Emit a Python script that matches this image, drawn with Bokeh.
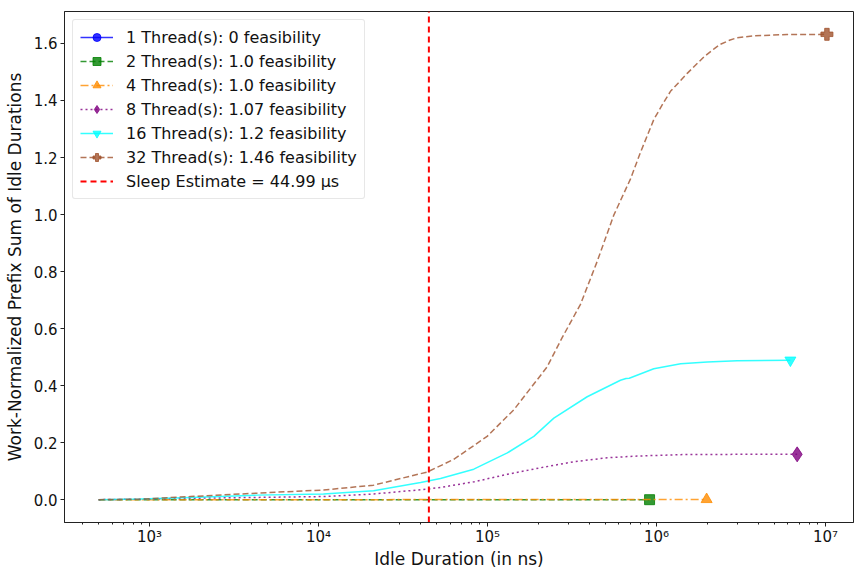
from bokeh.plotting import figure
from bokeh.models import (Range1d, FixedTicker, CustomJSTickFormatter, Legend, LegendItem,
                          NumeralTickFormatter, ColumnDataSource)
from bokeh.embed import file_html
from bokeh.resources import INLINE

# ---------------- data ----------------
# 1 thread: no visible curve and no visible end marker in the reference
t1_x = [500]
t1_y = [0.0]

t2_x = [500, 1e4, 1e5, 9.1e5]
t2_y = [0.0, 0.0, 0.0, 0.0]

t4_x = [500, 1e4, 1e5, 1e6, 1.98e6]
t4_y = [0.0, 0.0, 0.0005, 0.001, 0.001]

t8_x = [500, 885, 1750, 4340, 1.07e4, 2.12e4, 4.4e4, 5.27e4, 8.3e4, 1.31e5, 2.06e5, 3.24e5,
        5.11e5, 7.69e5, 1.39e6, 3e6, 6.8e6]
t8_y = [0.0, 0.002, 0.005, 0.008, 0.011, 0.020, 0.037, 0.043, 0.0625, 0.089, 0.112, 0.133,
        0.147, 0.153, 0.158, 0.159, 0.159]

t16_x = [500, 885, 1750, 4340, 1.07e4, 2.12e4, 4.02e4, 5.27e4, 8.3e4, 1.31e5, 1.88e5, 2.47e5,
         3.89e5, 6.12e5, 6.6e5, 6.9e5, 9.64e5, 1.39e6, 2e6, 3e6, 6.2e6]
t16_y = [0.0, 0.002, 0.008, 0.016, 0.020, 0.031, 0.060, 0.074, 0.107, 0.164, 0.222, 0.286,
         0.361, 0.419, 0.425, 0.426, 0.459, 0.477, 0.483, 0.487, 0.489]

t32_x = [500, 885, 1750, 4340, 1.07e4, 2.12e4, 4.4e4, 6.3e4, 9.95e4, 1.43e5, 2.25e5, 2.77e5,
         3.55e5, 4.46e5, 5.59e5, 7.02e5, 8.04e5, 9.64e5, 1.1e6, 1.21e6, 1.52e6, 1.91e6, 2.2e6,
         2.39e6, 2.7e6, 3.0e6, 3.77e6, 5.93e6, 1.02e7]
t32_y = [0.0, 0.002, 0.011, 0.023, 0.034, 0.051, 0.097, 0.141, 0.222, 0.315, 0.465, 0.569,
         0.685, 0.836, 0.998, 1.125, 1.218, 1.333, 1.392, 1.432, 1.495, 1.553, 1.582,
         1.597, 1.611, 1.620, 1.627, 1.631, 1.632]

sleep_estimate_ns = 44990

labels = ["1 Thread(s): 0 feasibility", "2 Thread(s): 1.0 feasibility", "4 Thread(s): 1.0 feasibility",
          "8 Thread(s): 1.07 feasibility", "16 Thread(s): 1.2 feasibility", "32 Thread(s): 1.46 feasibility"]
sleep_label = "Sleep Estimate = 44.99 \u03bcs"

x_ticks = [1e3, 1e4, 1e5, 1e6, 1e7]
y_ticks = [0.0, 0.2, 0.4, 0.6, 0.8, 1.0, 1.2, 1.4, 1.6]

x_min, x_max = 314, 1.465e7
y_min, y_max = -0.080, 1.712

# ---------------- figure ----------------
FONT = "DejaVu Sans"
p = figure(width=854, height=571, x_axis_type="log", output_backend="svg", toolbar_location=None,
           x_range=Range1d(x_min, x_max), y_range=Range1d(y_min, y_max),
           min_border_left=64, min_border_top=11, min_border_right=1, min_border_bottom=43)
p.grid.visible = False
p.outline_line_color = "#222222"
p.outline_line_width = 1
p.background_fill_color = "white"
p.border_fill_color = "white"

series = [
    (t1_x, t1_y, "blue", "solid", "circle", False),
    (t2_x, t2_y, "green", "dashed", "square", True),
    (t4_x, t4_y, "darkorange", "dashdot", "triangle", True),
    (t8_x, t8_y, "purple", "dotted", "diamond", True),
    (t16_x, t16_y, "cyan", "solid", "inverted_triangle", True),
    (t32_x, t32_y, "sienna", "dashed", "plus", True),
]
dash_map = {"solid": "solid", "dashed": "6 3", "dashdot": "8 3 2 3", "dotted": "2 3"}
size_map = {"circle": 10, "square": 10, "triangle": 11, "diamond": 15,
            "inverted_triangle": 11, "plus": 12}

items = []
for (xs, ys, col, dash, mk, show_end), lab in zip(series, labels):
    r1 = p.line(xs, ys, line_color=col, line_alpha=0.8, line_width=1.5, line_dash=dash_map[dash])
    end_y = ys[-1:] if show_end else [float("nan")]
    src = ColumnDataSource(dict(x=xs[-1:], y=end_y))
    r2 = p.scatter("x", "y", source=src, marker=mk, size=size_map[mk],
                   fill_color=col, line_color=col, fill_alpha=0.8, line_alpha=0.8)
    items.append(LegendItem(label=lab, renderers=[r1, r2]))

rs = p.line([sleep_estimate_ns, sleep_estimate_ns], [y_min, y_max], line_color="red", line_width=2,
            line_dash="6 4")
items.append(LegendItem(label=sleep_label, renderers=[rs]))

legend = Legend(items=items, location="top_left")
legend.label_text_font = FONT
legend.label_text_font_size = "16px"
legend.label_text_color = "#111111"
legend.glyph_width = 33
legend.glyph_height = 20
legend.label_height = 20
legend.spacing = 4
legend.padding = 7
legend.margin = 8
legend.border_line_color = "#d0d0d0"
legend.border_line_width = 1
legend.border_radius = 3
legend.background_fill_alpha = 0.8
legend.label_standoff = 13
p.add_layout(legend)

# axes
p.xaxis.ticker = FixedTicker(ticks=x_ticks,
                             minor_ticks=[m * 10 ** e for e in range(2, 8) for m in range(2, 10)])
p.xaxis.formatter = CustomJSTickFormatter(code="""
const sup = {'0':'\u2070','1':'\u00b9','2':'\u00b2','3':'\u00b3','4':'\u2074','5':'\u2075','6':'\u2076','7':'\u2077','8':'\u2078','9':'\u2079','-':'\u207b'};
const e = Math.round(Math.log10(tick));
return '10' + String(e).split('').map(c => sup[c]).join('');
""")
p.yaxis.ticker = FixedTicker(ticks=y_ticks, minor_ticks=[])
p.yaxis.formatter = NumeralTickFormatter(format="0.0")

for ax in (p.xaxis, p.yaxis):
    ax.axis_line_color = "#222222"
    ax.major_tick_line_color = "#222222"
    ax.minor_tick_line_color = "#222222"
    ax.major_tick_out = 4
    ax.major_tick_in = 0
    ax.minor_tick_out = 2
    ax.minor_tick_in = 0
    ax.major_label_text_font = FONT
    ax.major_label_text_font_size = "15px"
    ax.major_label_text_color = "#111111"
    ax.axis_label_text_font = FONT
    ax.axis_label_text_font_size = "17px"
    ax.axis_label_text_font_style = "normal"
    ax.axis_label_text_color = "#111111"

p.xaxis.axis_label = "Idle Duration (in ns)"
p.yaxis.axis_label = "Work-Normalized Prefix Sum of Idle Durations"
p.xaxis.major_label_standoff = 1
p.yaxis.major_label_standoff = 3
p.xaxis.axis_label_standoff = 0
p.yaxis.axis_label_standoff = 6

open("out.html", "w").write(file_html(p, INLINE))
